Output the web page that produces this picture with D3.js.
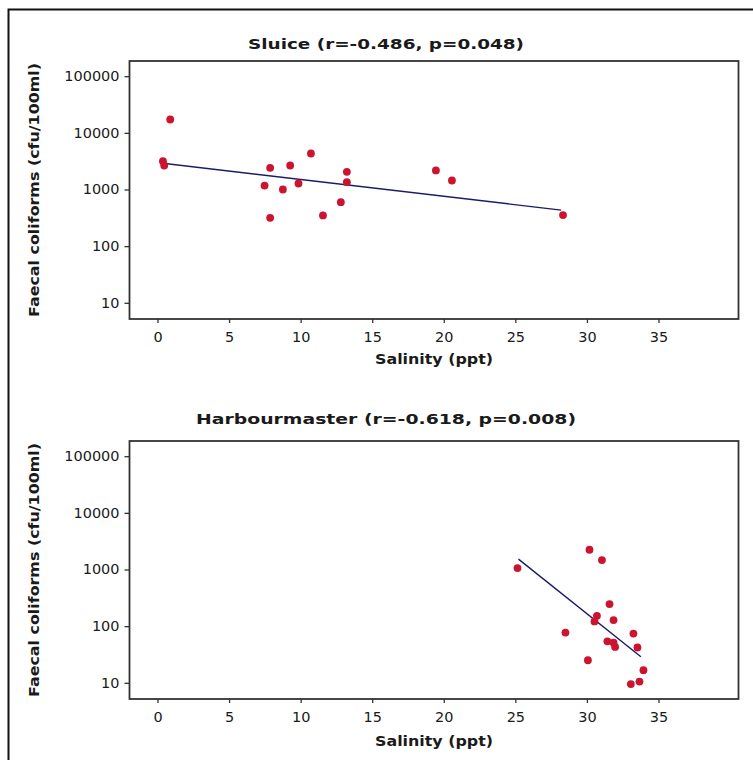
<!DOCTYPE html>
<html>
<head>
<meta charset="utf-8">
<script src="https://cdn.jsdelivr.net/npm/d3@7"></script>
<style>
  body { margin: 0; background: #fff; }
  svg { display: block; }
  text { font-family: "DejaVu Sans", Verdana, sans-serif; fill: #1a1a1a; }
</style>
</head>
<body>
<svg id="chart" width="753" height="760"></svg>
<script>
// Sluice: salinity (ppt) and faecal coliforms (cfu/100ml)
const sluiceSalinity  = [0.89, 0.38, 0.47, 7.48, 7.87, 7.87, 8.76, 9.27, 9.85, 10.72, 11.56, 12.81, 13.23, 13.23, 19.45, 20.57, 28.33];
const sluiceColiforms = [17200, 3160, 2650, 1175, 2415, 316, 1000, 2650, 1275, 4320, 348, 597, 2050, 1345, 2175, 1443, 353];
// fitted regression line end points
const sluiceFitSalinity  = [0.52, 28.2];
const sluiceFitColiforms = [2880, 433];

// Harbourmaster: salinity (ppt) and faecal coliforms (cfu/100ml)
const harbourSalinity  = [25.15, 30.18, 31.05, 31.58, 30.7, 30.53, 31.86, 28.5, 33.25, 31.43, 31.86, 31.97, 33.53, 30.07, 33.95, 33.07, 33.67];
const harbourColiforms = [1060, 2230, 1466, 245, 152, 121, 128, 77, 74, 54, 51, 43, 42, 25, 16.7, 9.5, 10.5];
const harbourFitSalinity  = [25.22, 33.77];
const harbourFitColiforms = [1527, 28.8];

const panelTitles = ["Sluice (r=-0.486, p=0.048)", "Harbourmaster (r=-0.618, p=0.008)"];
const xTicks = [0, 5, 10, 15, 20, 25, 30, 35];
const yTicks = [10, 100, 1000, 10000, 100000];
const xLabel = "Salinity (ppt)";
const yLabel = "Faecal coliforms (cfu/100ml)";

const svg = d3.select("#chart");

// outer frame (runs off the right and bottom edges)
svg.append("rect")
  .attr("x", 8.5).attr("y", 9.5)
  .attr("width", 800).attr("height", 800)
  .attr("fill", "none").attr("stroke", "#111").attr("stroke-width", 2);

const plotLeft = 129.5, plotRight = 738.5, plotH = 258;
const digitW = 9.2;

const panels = [
  { title: panelTitles[0], sx: sluiceSalinity, sy: sluiceColiforms,
    fx: sluiceFitSalinity, fy: sluiceFitColiforms,
    top: 61, titleY: 44, titleLen: 276, xLabelY: 359 },
  { title: panelTitles[1], sx: harbourSalinity, sy: harbourColiforms,
    fx: harbourFitSalinity, fy: harbourFitColiforms,
    top: 441, titleY: 419, titleLen: 380, xLabelY: 741 }
];

const fmt = d3.format("d");

panels.forEach((p, i) => {
  const bottom = p.top + plotH;
  const x = d3.scaleLinear().domain([-1.956, 40.59]).range([plotLeft, plotRight]);
  const y = d3.scaleLog().domain([5.18, 185400]).range([bottom, p.top]);
  const g = svg.append("g");

  // title
  g.append("text")
    .attr("x", 386).attr("y", p.titleY)
    .attr("text-anchor", "middle").attr("dominant-baseline", "central")
    .attr("font-size", 14.5).attr("font-weight", "bold")
    .attr("textLength", p.titleLen).attr("lengthAdjust", "spacingAndGlyphs")
    .text(p.title);

  // y axis
  const gy = g.append("g").attr("transform", `translate(${plotLeft},0)`)
    .call(d3.axisLeft(y).tickValues(yTicks).tickSize(5).tickSizeOuter(0).tickPadding(5).tickFormat(fmt));
  gy.select(".domain").remove();
  gy.selectAll(".tick line").attr("stroke", "#333").attr("stroke-width", 1.3);
  gy.selectAll(".tick text")
    .attr("font-size", 13.5).attr("font-family", "DejaVu Sans").attr("fill", "#1a1a1a")
    .attr("textLength", d => fmt(d).length * digitW).attr("lengthAdjust", "spacingAndGlyphs");

  // x axis
  const gx = g.append("g").attr("transform", `translate(0,${bottom})`)
    .call(d3.axisBottom(x).tickValues(xTicks).tickSize(4).tickSizeOuter(0).tickFormat(fmt));
  gx.select(".domain").remove();
  gx.selectAll(".tick line").attr("stroke", "#333").attr("stroke-width", 1.3);
  gx.selectAll(".tick text")
    .attr("y", 18).attr("dy", "0.35em")
    .attr("font-size", 13.5).attr("font-family", "DejaVu Sans").attr("fill", "#1a1a1a")
    .attr("textLength", d => fmt(d).length * digitW).attr("lengthAdjust", "spacingAndGlyphs");

  // plot frame
  g.append("rect")
    .attr("x", plotLeft).attr("y", p.top)
    .attr("width", plotRight - plotLeft).attr("height", plotH)
    .attr("fill", "none").attr("stroke", "#333").attr("stroke-width", 1.8);

  // axis labels
  g.append("text")
    .attr("x", (plotLeft + plotRight) / 2).attr("y", p.xLabelY)
    .attr("text-anchor", "middle").attr("dominant-baseline", "central")
    .attr("font-size", 13.5).attr("font-weight", "bold")
    .attr("textLength", 118).attr("lengthAdjust", "spacingAndGlyphs")
    .text(xLabel);

  g.append("text")
    .attr("transform", `translate(34,${(p.top + bottom) / 2}) rotate(-90)`)
    .attr("text-anchor", "middle").attr("dominant-baseline", "central")
    .attr("font-size", 13.5).attr("font-weight", "bold")
    .attr("textLength", 254).attr("lengthAdjust", "spacingAndGlyphs")
    .text(yLabel);

  // regression line
  const fit = p.fx.map((v, k) => [v, p.fy[k]]);
  g.append("path")
    .datum(fit)
    .attr("d", d3.line().x(d => x(d[0])).y(d => y(d[1])))
    .attr("fill", "none").attr("stroke", "#1b1b66").attr("stroke-width", 1.4);

  // observations
  const pts = p.sx.map((v, k) => [v, p.sy[k]]);
  g.append("g").selectAll("circle")
    .data(pts).join("circle")
    .attr("cx", d => x(d[0])).attr("cy", d => y(d[1]))
    .attr("r", 3.9).attr("fill", "#cc1430");
});
</script>
</body>
</html>
